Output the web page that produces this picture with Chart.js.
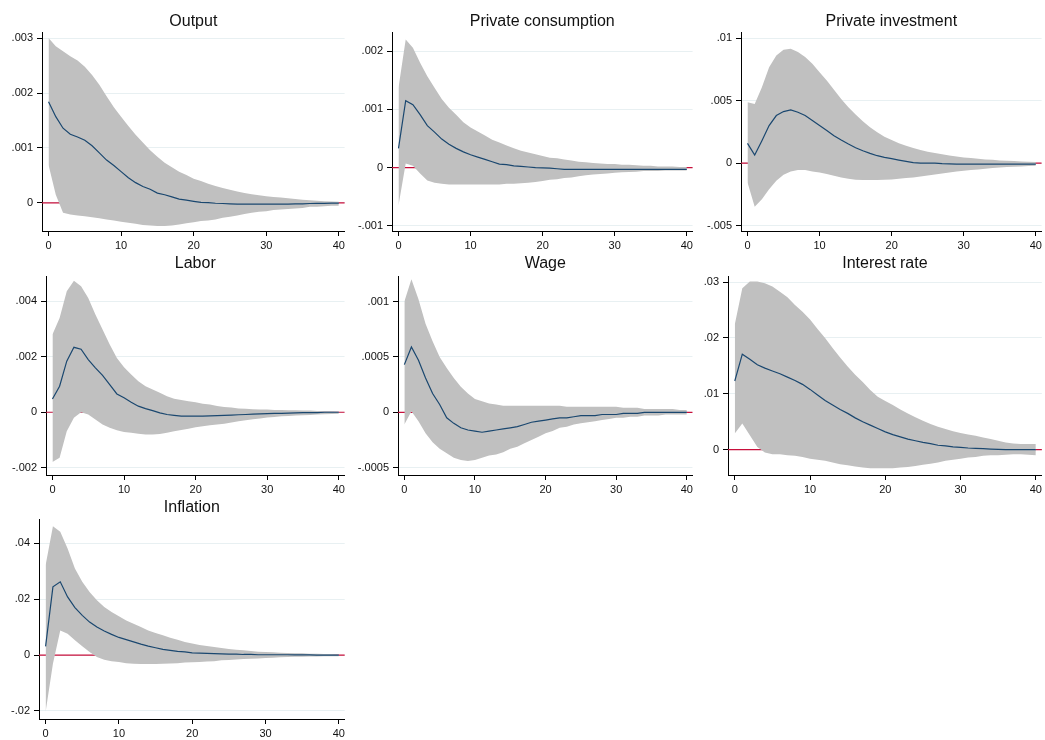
<!DOCTYPE html>
<html>
<head>
<meta charset="utf-8">
<script src="https://cdn.jsdelivr.net/npm/chart.js@4"></script>
<style>
  body { margin: 0; background: #fff; }
  #wrap { position: relative; width: 1045px; height: 740px; }
  canvas { position: absolute; }
</style>
</head>
<body>
<div id="wrap"></div>
<script>
const horizons = [0,1,2,3,4,5,6,7,8,9,10,11,12,13,14,15,16,17,18,19,20,21,22,23,24,25,26,27,28,29,30,31,32,33,34,35,36,37,38,39,40];
const xTicks = [0, 10, 20, 30, 40];

const titles = ['Output', 'Private consumption', 'Private investment', 'Labor', 'Wage', 'Interest rate', 'Inflation'];

// Output
const outputIrf = [0.00184,0.00157,0.00136,0.00125,0.0012,0.00114,0.00104,0.00091,0.00078,0.00068,0.00057,0.00046,0.00037,0.0003,0.00025,0.00018,0.00015,0.00011,0.00007,0.00005,0.00003,0.00001,0.000005,-0.000005,-0.00001,-0.000015,-0.00002,-0.00002,-0.00002,-0.00002,-0.00002,-0.00002,-0.00002,-0.00002,-0.000018,-0.000015,-0.00001,-0.000008,-0.000006,-0.000004,-0.000003];
const outputHi = [0.003,0.00285,0.00276,0.00267,0.00259,0.00248,0.00233,0.00215,0.00194,0.00174,0.00157,0.0014,0.00124,0.0011,0.00096,0.00084,0.00073,0.00065,0.00057,0.00051,0.00044,0.0004,0.00035,0.00031,0.00027,0.00024,0.00021,0.00018,0.00016,0.00014,0.00012,0.00011,0.0001,0.000085,0.00007,0.00006,0.00005,0.00004,0.00003,0.000025,0.00002];
const outputLo = [0.00069,0.00015,-0.00018,-0.00021,-0.00023,-0.00024,-0.00026,-0.00028,-0.0003,-0.00032,-0.00034,-0.00036,-0.00038,-0.0004,-0.00041,-0.00042,-0.00042,-0.00041,-0.00039,-0.00037,-0.00035,-0.00033,-0.00032,-0.0003,-0.00027,-0.00025,-0.00023,-0.0002,-0.00018,-0.00016,-0.00015,-0.00013,-0.00012,-0.00011,-0.0001,-0.00009,-0.00007,-0.00007,-0.00006,-0.00005,-0.00005];
const outputTicks = [0, 0.001, 0.002, 0.003];
const outputLabels = ['0', '.001', '.002', '.003'];

// Private consumption
const consIrf = [0.00033,0.00115,0.00108,0.00091,0.00072,0.00061,0.00049,0.0004,0.00033,0.00027,0.00022,0.00018,0.00014,0.0001,0.00006,0.00005,0.00003,0.00002,0.00001,0,-0.000005,-0.00001,-0.00002,-0.00003,-0.00003,-0.00003,-0.00003,-0.00003,-0.00003,-0.00003,-0.00003,-0.00003,-0.00003,-0.00003,-0.00003,-0.00003,-0.00003,-0.00003,-0.00003,-0.00003,-0.00003];
const consHi = [0.00137,0.0022,0.00206,0.0018,0.00157,0.00137,0.00118,0.00103,0.00091,0.00078,0.00069,0.00062,0.00055,0.00048,0.00043,0.00038,0.00033,0.00029,0.00026,0.00023,0.0002,0.00017,0.00016,0.00014,0.00012,0.0001,0.00009,0.00008,0.00007,0.00006,0.00006,0.00005,0.00005,0.00004,0.00003,0.00003,0.00002,0.00002,0.00002,0.00001,0.00001];
const consLo = [-0.00065,0.00007,0.00003,-0.0001,-0.00022,-0.00026,-0.00028,-0.00029,-0.00029,-0.00029,-0.00029,-0.00029,-0.00029,-0.00029,-0.00029,-0.00028,-0.00028,-0.00027,-0.00026,-0.00025,-0.00023,-0.00021,-0.0002,-0.00018,-0.00017,-0.00015,-0.00013,-0.00012,-0.00011,-0.0001,-0.00009,-0.00008,-0.000075,-0.00007,-0.00006,-0.00006,-0.00006,-0.00005,-0.00005,-0.00005,-0.00005];
const consTicks = [-0.001, 0, 0.001, 0.002];
const consLabels = ['-.001', '0', '.001', '.002'];

// Private investment
const invIrf = [0.00158,0.00064,0.00179,0.003,0.0038,0.00412,0.00425,0.00406,0.0038,0.0034,0.003,0.0026,0.00219,0.00184,0.00152,0.00123,0.00099,0.00078,0.00059,0.00045,0.00035,0.00024,0.00013,0.00003,0,0,0,-0.00005,-0.00007,-0.00008,-0.00008,-0.00008,-0.00008,-0.00008,-0.00008,-0.00008,-0.00008,-0.00008,-0.00008,-0.00008,-0.00008];
const invHi = [0.00487,0.00473,0.00607,0.00767,0.00861,0.00906,0.00914,0.00888,0.00848,0.00794,0.00727,0.0066,0.00586,0.00513,0.00447,0.00388,0.00334,0.00286,0.00246,0.00211,0.00184,0.00158,0.00139,0.0012,0.00104,0.00091,0.0008,0.0007,0.00061,0.00053,0.00045,0.0004,0.00035,0.00029,0.00027,0.00021,0.00019,0.00016,0.00013,0.00011,0.00008];
const invLo = [-0.00155,-0.0035,-0.00289,-0.00209,-0.00142,-0.00094,-0.00067,-0.00056,-0.00056,-0.00067,-0.00075,-0.00088,-0.00102,-0.00115,-0.00126,-0.00134,-0.00136,-0.00136,-0.00136,-0.00134,-0.00131,-0.00126,-0.0012,-0.00115,-0.00107,-0.00099,-0.00091,-0.00083,-0.00075,-0.00067,-0.00061,-0.00056,-0.00051,-0.00045,-0.0004,-0.00035,-0.00032,-0.00029,-0.00027,-0.00024,-0.00021];
const invTicks = [-0.005, 0, 0.005, 0.01];
const invLabels = ['-.005', '0', '.005', '.01'];

// Labor
const laborIrf = [0.00048,0.00094,0.00184,0.00234,0.00227,0.0019,0.0016,0.00133,0.001,0.00066,0.00052,0.00036,0.00022,0.00013,0.00006,-0.00002,-0.00008,-0.00011,-0.00014,-0.00014,-0.00014,-0.00014,-0.00013,-0.00012,-0.00011,-0.0001,-0.00009,-0.00008,-0.00007,-0.00006,-0.00005,-0.00004,-0.00004,-0.00003,-0.00002,-0.00001,-0.00001,-0.00001,0,0,0];
const laborHi = [0.0028,0.0034,0.00436,0.00474,0.00454,0.00412,0.00352,0.00298,0.00244,0.00196,0.00162,0.00136,0.00112,0.00094,0.00082,0.0007,0.00058,0.00049,0.00044,0.0004,0.00036,0.00031,0.00028,0.00023,0.00019,0.00017,0.00014,0.00013,0.00011,0.0001,0.0001,0.00008,0.00008,0.00007,0.00007,0.00006,0.00006,0.00005,0.00004,0.00004,0.00002];
const laborLo = [-0.00179,-0.00164,-0.00068,-0.0002,0,-0.00008,-0.00026,-0.00044,-0.00056,-0.00065,-0.00071,-0.00074,-0.00077,-0.0008,-0.0008,-0.00078,-0.00074,-0.00068,-0.00064,-0.00059,-0.00054,-0.0005,-0.00047,-0.00044,-0.00041,-0.00037,-0.00032,-0.00029,-0.00025,-0.00022,-0.00019,-0.00017,-0.00014,-0.00013,-0.00012,-0.00011,-0.0001,-0.00008,-0.00007,-0.00006,-0.00005];
const laborTicks = [-0.002, 0, 0.002, 0.004];
const laborLabels = ['-.002', '0', '.002', '.004'];

// Wage
const wageIrf = [0.00043,0.00059,0.00047,0.00031,0.00017,0.00007,-0.00005,-0.0001,-0.00014,-0.00016,-0.00017,-0.00018,-0.00017,-0.00016,-0.00015,-0.00014,-0.00013,-0.00011,-0.00009,-0.00008,-0.00007,-0.00006,-0.00005,-0.00005,-0.00004,-0.00003,-0.00003,-0.00003,-0.00002,-0.00002,-0.00002,-0.00001,-0.00001,-0.00001,0,0,0,0,0,0,0];
const wageHi = [0.001,0.0012,0.00102,0.0008,0.00064,0.0005,0.0004,0.00031,0.00023,0.00017,0.00012,0.0001,0.00008,0.00007,0.00006,0.00006,0.00006,0.00006,0.00006,0.00006,0.00006,0.00006,0.00006,0.00005,0.00005,0.00005,0.00005,0.00005,0.00005,0.00005,0.00005,0.00004,0.00004,0.00004,0.00003,0.00003,0.00003,0.00003,0.00003,0.00002,0.00002];
const wageLo = [-0.00011,0.00001,-0.00008,-0.00019,-0.00027,-0.00033,-0.00037,-0.00041,-0.00043,-0.00044,-0.00043,-0.00041,-0.00039,-0.00038,-0.00036,-0.00033,-0.00031,-0.00028,-0.00025,-0.00022,-0.00019,-0.00017,-0.00014,-0.00013,-0.00011,-0.0001,-0.00009,-0.00008,-0.00007,-0.00006,-0.00005,-0.00005,-0.00004,-0.00004,-0.00003,-0.00003,-0.00003,-0.00002,-0.00002,-0.00002,-0.00002];
const wageTicks = [-0.0005, 0, 0.0005, 0.001];
const wageLabels = ['-.0005', '0', '.0005', '.001'];

// Interest rate
const rateIrf = [0.0123,0.0171,0.0162,0.0152,0.0146,0.0141,0.0136,0.013,0.0124,0.0117,0.0108,0.0098,0.0088,0.008,0.0072,0.0065,0.0057,0.005,0.0044,0.0038,0.0032,0.0027,0.0023,0.0019,0.0016,0.0013,0.0011,0.0008,0.0007,0.0005,0.0004,0.0003,0.00024,0.00018,0.00012,0.00006,0,0,0,0,0];
const rateHi = [0.0224,0.0289,0.0301,0.0301,0.0298,0.0292,0.0283,0.0273,0.0259,0.0247,0.0233,0.0216,0.02,0.0182,0.0165,0.0149,0.0134,0.0121,0.0107,0.0095,0.0087,0.008,0.0072,0.0065,0.0058,0.0052,0.0046,0.0041,0.0037,0.0033,0.003,0.0027,0.0025,0.0022,0.0019,0.0016,0.0013,0.0011,0.001,0.001,0.001];
const rateLo = [0.0029,0.0047,0.0026,0.0005,-0.0005,-0.0008,-0.0008,-0.001,-0.0011,-0.0013,-0.0016,-0.0018,-0.002,-0.0023,-0.0026,-0.0028,-0.003,-0.0032,-0.0033,-0.0033,-0.0033,-0.0033,-0.0032,-0.0031,-0.0029,-0.0027,-0.0025,-0.0023,-0.002,-0.0018,-0.0016,-0.0014,-0.0013,-0.0011,-0.001,-0.001,-0.0009,-0.0008,-0.0008,-0.0009,-0.001];
const rateTicks = [0, 0.01, 0.02, 0.03];
const rateLabels = ['0', '.01', '.02', '.03'];

// Inflation
const inflIrf = [0.0031,0.0244,0.0262,0.0208,0.017,0.0142,0.0118,0.01,0.0086,0.0074,0.0063,0.0055,0.0047,0.0039,0.0032,0.0026,0.002,0.0017,0.0013,0.0011,0.0008,0.0007,0.0006,0.0005,0.0004,0.0003,0.0003,0.0002,0.0002,0.0001,0.0001,0.0001,0.0001,0.0001,0.00005,0.00005,0.00005,0,0,0,0];
const inflHi = [0.0321,0.0461,0.0441,0.0381,0.031,0.0262,0.0226,0.0196,0.0172,0.0154,0.0139,0.0124,0.0112,0.01,0.0088,0.0079,0.0071,0.0062,0.0055,0.0047,0.0041,0.0036,0.0032,0.0029,0.0025,0.0022,0.0019,0.0017,0.0014,0.0012,0.0011,0.001,0.0008,0.0007,0.0006,0.0006,0.0005,0.0005,0.0004,0.0004,0.0002];
const inflLo = [-0.0204,-0.0031,0.0088,0.0076,0.0053,0.0031,0.0011,-0.0007,-0.0017,-0.0022,-0.0025,-0.0029,-0.0031,-0.0032,-0.0032,-0.0032,-0.0031,-0.003,-0.0029,-0.0027,-0.0026,-0.0025,-0.0023,-0.0022,-0.0019,-0.0018,-0.0016,-0.0014,-0.0013,-0.0012,-0.0011,-0.001,-0.0008,-0.0007,-0.0006,-0.0006,-0.0005,-0.0005,-0.0004,-0.0004,-0.0004];
const inflTicks = [-0.02, 0, 0.02, 0.04];
const inflLabels = ['-.02', '0', '.02', '.04'];

const series = [
  [outputIrf, outputHi, outputLo, outputTicks, outputLabels],
  [consIrf, consHi, consLo, consTicks, consLabels],
  [invIrf, invHi, invLo, invTicks, invLabels],
  [laborIrf, laborHi, laborLo, laborTicks, laborLabels],
  [wageIrf, wageHi, wageLo, wageTicks, wageLabels],
  [rateIrf, rateHi, rateLo, rateTicks, rateLabels],
  [inflIrf, inflHi, inflLo, inflTicks, inflLabels]
];

// layout of each panel: canvas box, y axis width, y range, title padding
const boxes = [
  { left: 0,   top: 0,   w: 348, h: 251, yw: 42, pr: 1, ymin: -0.00051,  ymax: 0.00311, tt: 12,   tb: 0.8 },
  { left: 348, top: 0,   w: 348, h: 251, yw: 44, pr: 1, ymin: -0.00109,  ymax: 0.00233, tt: 12,   tb: 0.8 },
  { left: 696, top: 0,   w: 349, h: 251, yw: 45, pr: 3, ymin: -0.00543,  ymax: 0.01048, tt: 12,   tb: 0.8 },
  { left: 0,   top: 244, w: 348, h: 251, yw: 46, pr: 1, ymin: -0.00226,  ymax: 0.00491, tt: 10.4, tb: 2.4 },
  { left: 348, top: 244, w: 348, h: 251, yw: 50, pr: 1, ymin: -0.000566, ymax: 0.00123, tt: 10.4, tb: 2.4 },
  { left: 696, top: 244, w: 349, h: 251, yw: 32, pr: 3, ymin: -0.00453,  ymax: 0.0311,  tt: 10.4, tb: 2.4 },
  { left: 0,   top: 487, w: 348, h: 252, yw: 39, pr: 1, ymin: -0.0229,   ymax: 0.0487,  tt: 11.4, tb: 1.4 }
];

const FONT = 'Arial, "Liberation Sans", sans-serif';
const TXT = '#111';

const zeroLine = {
  id: 'zeroLine',
  beforeDatasetsDraw(chart) {
    const { ctx, chartArea: a, scales: { y } } = chart;
    const py = y.getPixelForValue(0);
    ctx.save();
    ctx.strokeStyle = '#c8103c';
    ctx.lineWidth = 1.2;
    ctx.beginPath();
    ctx.moveTo(a.left, py);
    ctx.lineTo(a.right, py);
    ctx.stroke();
    ctx.restore();
  }
};

const wrap = document.getElementById('wrap');
const pts = (arr) => horizons.map((h, i) => ({ x: h, y: arr[i] }));

series.forEach(([irf, hi, lo, ticks, labels], i) => {
  const b = boxes[i];
  const canvas = document.createElement('canvas');
  canvas.width = b.w;
  canvas.height = b.h;
  canvas.style.left = b.left + 'px';
  canvas.style.top = b.top + 'px';
  wrap.appendChild(canvas);

  new Chart(canvas.getContext('2d'), {
    type: 'line',
    data: {
      datasets: [
        { data: pts(irf), borderColor: '#1a476f', borderWidth: 1.2, pointRadius: 0, tension: 0, fill: false },
        { data: pts(hi), borderColor: 'rgba(0,0,0,0)', borderWidth: 0, pointRadius: 0, tension: 0,
          fill: '+1', backgroundColor: '#c0c0c0' },
        { data: pts(lo), borderColor: 'rgba(0,0,0,0)', borderWidth: 0, pointRadius: 0, tension: 0, fill: false }
      ]
    },
    options: {
      responsive: false,
      animation: false,
      events: [],
      layout: { padding: { left: 0, right: b.pr, top: 0, bottom: 0 } },
      plugins: {
        legend: { display: false },
        tooltip: { enabled: false },
        title: {
          display: true,
          text: titles[i],
          fullSize: false,
          color: TXT,
          font: { family: FONT, size: 16, weight: 'normal' },
          padding: { top: b.tt, bottom: b.tb }
        }
      },
      scales: {
        x: {
          type: 'linear',
          min: -0.9,
          max: 40.8,
          afterBuildTicks: (s) => { s.ticks = xTicks.map(v => ({ value: v })); },
          afterFit: (s) => { s.height = 20; },
          border: { color: '#000', width: 1 },
          grid: { drawOnChartArea: false, drawTicks: true, tickLength: 5, tickColor: '#000' },
          ticks: { color: TXT, font: { family: FONT, size: 11 }, padding: 3, maxRotation: 0, autoSkip: false }
        },
        y: {
          type: 'linear',
          min: b.ymin,
          max: b.ymax,
          afterBuildTicks: (s) => { s.ticks = ticks.map(v => ({ value: v })); },
          afterFit: (s) => { s.width = b.yw; },
          border: { color: '#000', width: 1 },
          grid: { color: '#e8f0f2', lineWidth: 1, drawTicks: true, tickLength: 5, tickColor: '#000' },
          ticks: {
            color: TXT,
            font: { family: FONT, size: 11 },
            padding: 4,
            autoSkip: false,
            callback: (v, idx) => labels[idx]
          }
        }
      }
    },
    plugins: [zeroLine]
  });
});
</script>
</body>
</html>
